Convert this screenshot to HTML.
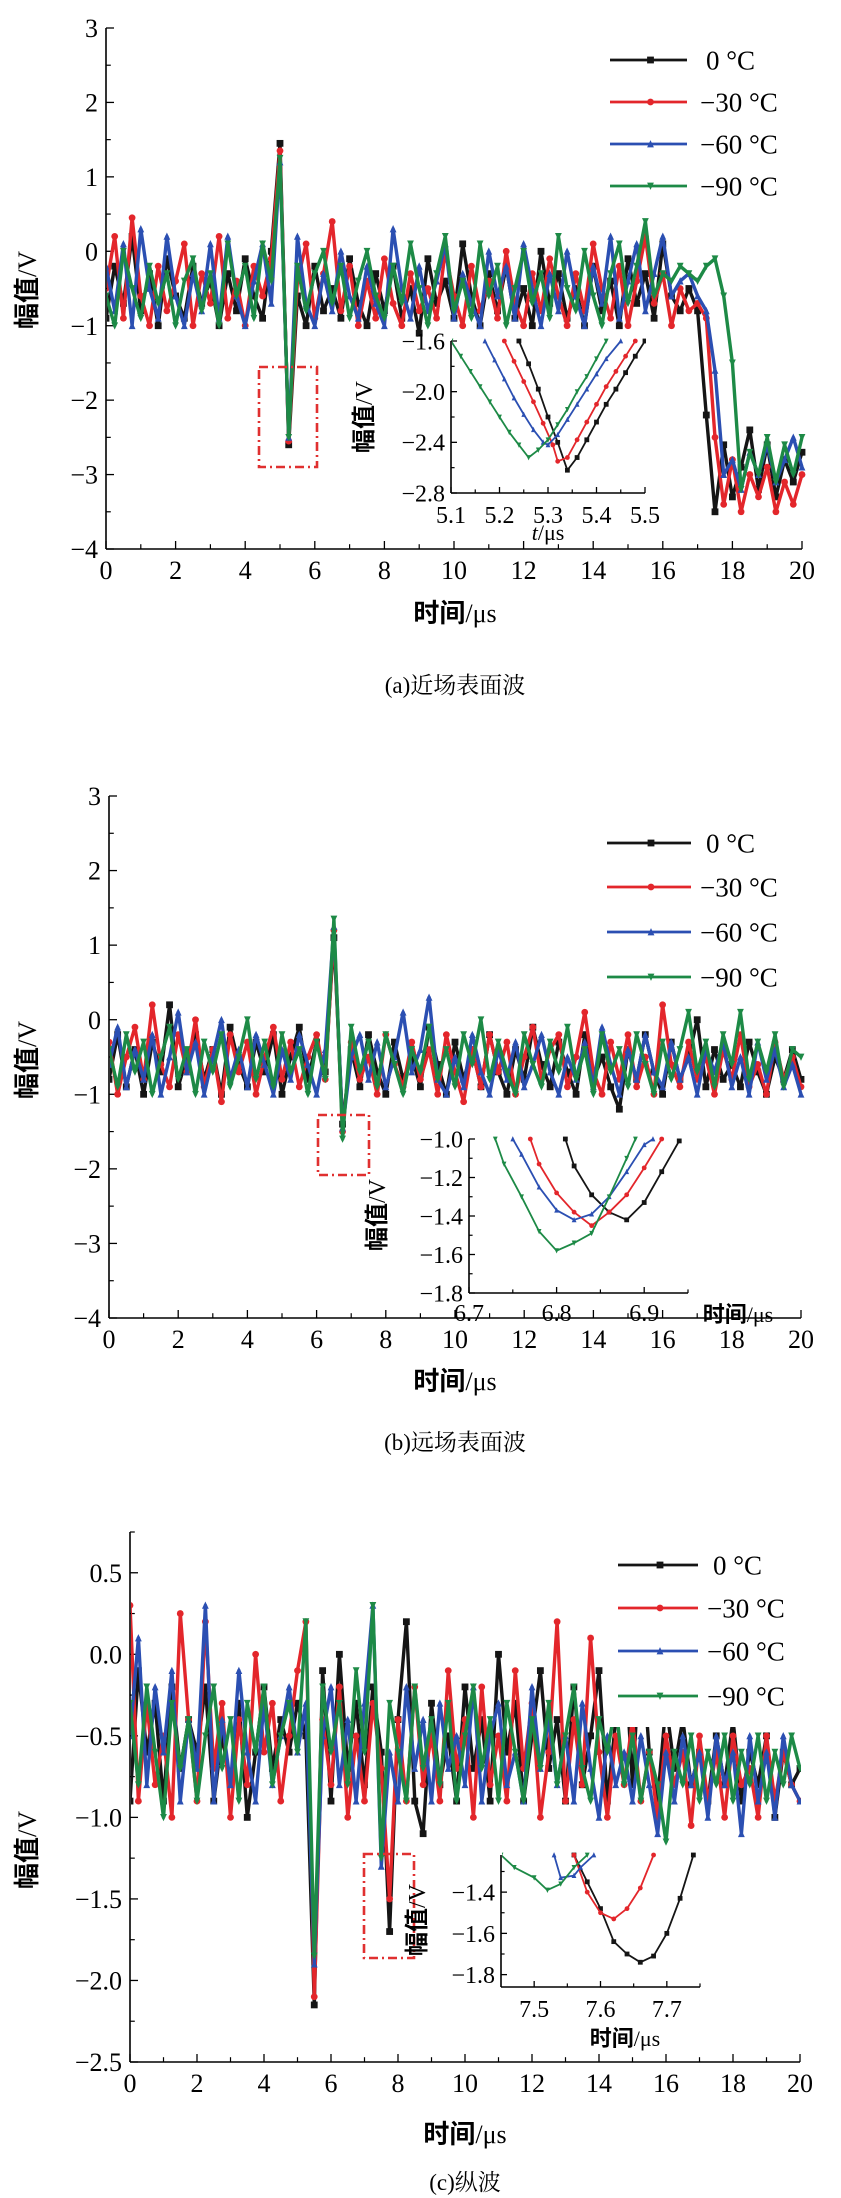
<!DOCTYPE html>
<html><head><meta charset="utf-8">
<style>
html,body{margin:0;padding:0;background:#fff;}
svg{display:block;}
text{font-family:"Liberation Serif","Noto Serif CJK SC",serif;fill:#000;}
.cjk{font-family:"Liberation Serif","Noto Sans CJK SC",sans-serif;font-weight:bold;}
</style></head>
<body>
<svg id="root" width="841" height="2198" viewBox="0 0 841 2198" xmlns="http://www.w3.org/2000/svg"></svg>
<script>
// ---------- data (t = 0..20 step 0.25) ----------
const legendLabels = ["0 °C","−30 °C","−60 °C","−90 °C"];
const aBlack=[-0.9,-0.2,-0.7,0.2,-0.8,-0.3,-1.0,-0.1,-0.6,-0.9,-0.2,-0.7,-0.4,-1.0,-0.3,-0.8,-0.1,-0.6,-0.9,0.0,1.45,-2.6,-0.6,-1.0,-0.2,-0.8,-0.5,-0.9,-0.1,-0.7,-1.0,-0.3,-0.8,-0.2,-0.9,-0.5,-1.1,-0.1,-0.7,-0.4,-0.9,0.1,-0.6,-1.0,-0.3,-0.8,-0.2,-0.9,-0.5,-1.0,0.0,-0.7,-0.3,-0.9,-0.5,-1.0,-0.2,-0.8,-0.4,-1.0,-0.1,-0.7,-0.3,-0.9,0.1,-0.6,-0.8,-0.5,-0.8,-2.2,-3.5,-2.6,-3.3,-2.9,-2.4,-3.2,-2.6,-3.3,-2.8,-3.1,-2.7];
const aRed=[-0.5,0.2,-0.9,0.45,-0.6,-1.0,-0.2,-0.8,-0.4,0.1,-1.0,-0.3,-0.7,0.2,-0.9,-0.4,-1.0,-0.2,-0.6,-0.1,1.35,-2.55,-0.4,0.1,-0.9,-0.3,0.4,-0.8,-0.2,-1.0,-0.4,-0.9,-0.1,-0.7,-1.0,-0.3,-0.8,-0.5,-0.9,0.0,-0.6,-1.0,-0.2,-0.8,-0.4,-0.9,0.0,-0.7,-1.0,-0.3,-0.8,-0.1,-0.6,-1.0,-0.3,-0.8,0.1,-0.5,-0.9,-0.2,-1.0,-0.4,0.2,-0.7,-0.3,-1.0,-0.5,-0.8,-0.7,-0.9,-2.5,-3.4,-2.8,-3.5,-3.0,-3.3,-2.9,-3.5,-3.1,-3.4,-3.0];
const aBlue=[-0.2,-0.8,0.1,-1.0,0.3,-0.5,-0.9,0.2,-0.6,-1.0,-0.3,-0.8,0.1,-0.9,0.2,-0.6,-1.0,-0.4,0.1,-0.7,1.2,-2.5,0.2,-0.7,-1.0,-0.3,-0.8,0.0,-0.6,-0.9,-0.2,-0.7,-1.0,0.3,-0.5,-0.9,-0.2,-0.8,-0.4,0.1,-0.9,-0.3,-0.7,-1.0,0.0,-0.6,-0.2,-0.9,0.1,-0.5,-1.0,-0.3,-0.8,0.0,-0.6,-1.0,-0.2,-0.7,0.2,-0.9,-0.4,0.1,-0.8,-0.3,0.2,-0.6,-0.4,-0.3,-0.6,-0.8,-1.6,-3.0,-2.8,-3.2,-2.7,-3.0,-2.6,-3.1,-2.8,-2.5,-2.9];
const aGreen=[-0.6,-1.0,0.0,-0.5,-0.9,-0.2,-0.7,-0.3,-1.0,-0.4,-0.1,-0.8,-0.3,-1.0,0.1,-0.6,-0.2,-0.9,0.1,-0.4,1.25,-2.5,-0.2,-0.8,-0.3,0.0,-0.7,-0.2,-0.9,-0.4,0.0,-0.6,-0.9,-0.2,-0.7,0.1,-0.5,-1.0,-0.3,0.2,-0.8,-0.4,-0.9,0.1,-0.6,-0.2,-1.0,-0.5,0.0,-0.7,-0.3,-0.9,0.2,-0.5,-0.8,0.0,-0.6,-1.0,-0.3,0.1,-0.7,-0.2,0.4,-0.6,-0.3,-0.4,-0.2,-0.3,-0.4,-0.2,-0.1,-0.6,-1.5,-3.2,-2.7,-3.0,-2.5,-3.1,-2.6,-3.0,-2.5];

const bBlack=[-0.8,-0.2,-0.9,-0.4,-1.0,-0.3,-0.7,0.2,-0.9,-0.5,-0.2,-0.8,-0.4,-1.0,-0.1,-0.6,-0.9,-0.3,-0.7,-0.2,-1.0,-0.5,-0.1,-0.8,-0.3,-0.7,1.1,-1.4,-0.4,-0.9,-0.2,-0.7,-1.0,-0.3,-0.8,-0.5,-0.9,-0.1,-0.6,-1.0,-0.3,-0.8,-0.4,-0.9,-0.2,-0.7,-1.0,-0.4,-0.8,-0.1,-0.6,-0.9,-0.3,-0.7,-1.0,-0.2,-0.8,-0.5,-0.9,-1.2,-0.4,-0.8,-0.2,-0.7,-1.0,-0.3,-0.8,-0.5,0.0,-0.9,-0.4,-0.8,-0.6,-0.9,-0.3,-0.7,-1.0,-0.5,-0.8,-0.4,-0.8];
const bRed=[-0.3,-1.0,-0.5,-0.1,-0.8,0.2,-0.6,-0.9,-0.2,-0.7,0.0,-0.9,-0.4,-1.1,-0.2,-0.7,-0.3,-1.0,-0.5,-0.1,-0.8,-0.3,-0.9,-0.5,-0.2,-0.8,1.2,-1.5,-0.3,-0.8,-0.5,-1.0,-0.2,-0.6,-0.9,-0.3,-0.8,-0.4,-1.0,-0.2,-0.7,-1.1,-0.4,-0.9,-0.2,-0.7,-0.3,-1.0,-0.5,-0.1,-0.8,-0.4,-0.2,-0.9,-0.5,0.1,-0.7,-1.0,-0.3,-0.8,-0.2,-0.9,-0.5,-1.0,0.2,-0.6,-0.9,-0.3,-0.8,-0.5,-1.0,-0.4,-0.8,-0.2,-0.9,-0.6,-1.0,-0.3,-0.8,-0.5,-0.9];
const bBlue=[-0.6,-0.1,-0.9,-0.4,-0.8,-0.2,-1.0,-0.5,0.1,-0.7,-0.3,-1.0,-0.5,0.0,-0.8,-0.4,-0.9,-0.2,-0.6,-1.0,-0.4,-0.8,-0.2,-0.6,-1.0,-0.4,1.25,-1.45,-0.5,-0.2,-0.8,-0.3,-0.9,-0.5,0.1,-0.7,-0.4,0.3,-0.8,-1.0,-0.5,-0.9,-0.2,-0.7,-1.0,-0.4,-0.8,-0.3,-0.9,-0.6,-0.2,-0.7,-1.0,-0.5,-0.8,-0.3,-0.9,-0.1,-0.6,-1.0,-0.4,-0.8,-0.2,-0.7,-0.9,-0.3,-0.8,-0.5,-1.0,-0.4,-0.7,-0.3,-0.9,-0.5,-1.0,-0.3,-0.8,-0.4,-0.9,-0.6,-1.0];
const bGreen=[-0.4,-0.9,-0.2,-0.7,-0.3,-1.0,-0.5,-0.1,-0.8,-0.4,-1.0,-0.3,-0.7,-0.2,-0.9,-0.5,0.0,-0.8,-0.3,-0.9,-0.2,-0.7,-0.4,-1.0,-0.3,-0.8,1.35,-1.6,-0.1,-0.7,-0.3,-0.9,-0.2,-0.6,-1.0,-0.4,-0.7,-0.1,-0.8,-0.4,-0.9,-0.2,-0.6,0.0,-0.8,-0.3,-0.7,-1.0,-0.2,-0.6,-0.9,-0.3,-0.7,-0.1,-0.8,-0.4,-1.0,-0.2,-0.7,-0.4,-0.9,-0.2,-0.6,-1.0,-0.3,-0.8,-0.4,0.1,-0.7,-0.3,-0.9,-0.2,-0.6,0.1,-0.8,-0.3,-0.7,-0.2,-0.9,-0.4,-0.5];

const cBlack=[-0.9,-0.1,-0.6,-0.3,-0.9,-0.2,-0.7,-0.4,-0.6,-0.2,-0.9,-0.5,-0.8,-0.3,-1.0,-0.6,-0.2,-0.7,-0.4,-0.6,-0.3,-0.5,-2.15,-0.1,-0.9,0.0,-0.7,-0.3,-0.8,-0.2,-0.6,-1.7,-0.4,0.2,-0.9,-1.1,-0.3,-0.8,-0.5,-0.9,-0.2,-0.7,-0.4,-0.9,0.0,-0.6,-0.3,-0.9,-0.5,-0.1,-0.7,-0.4,-0.9,-0.2,-0.8,-0.5,-0.1,-0.9,-0.4,0.1,-0.8,0.1,-0.6,-0.9,-0.3,-0.7,-0.4,-0.8,-0.6,-0.9,-0.5,-0.8,-0.4,-0.9,-0.6,-0.8,-0.5,-1.0,-0.6,-0.8,-0.7];
const cRed=[0.3,-0.9,-0.3,-0.8,-0.5,-1.0,0.25,-0.4,-0.9,0.2,-0.7,-0.3,-1.0,-0.4,-0.8,0.0,-0.6,-0.3,-0.9,-0.5,-0.1,0.2,-2.1,-0.4,-0.8,-0.2,-1.0,-0.5,-0.9,-0.3,-0.7,-1.5,-0.4,-0.9,-0.2,-0.8,-0.5,-0.9,-0.1,-0.7,-0.4,-1.0,-0.2,-0.8,-0.5,-0.9,-0.1,-0.7,-0.3,-1.0,-0.6,0.2,-0.9,-0.4,-0.8,0.1,-0.6,-1.0,-0.5,-0.8,-0.4,-0.9,-0.6,-1.0,-0.5,-0.8,-0.6,-1.05,-0.5,-0.9,-0.6,-1.0,-0.5,-0.8,-0.7,-1.0,-0.5,-0.9,-0.6,-0.8,-0.9];
const cBlue=[-0.5,0.1,-0.8,-0.2,-0.6,-0.1,-0.9,-0.4,-0.7,0.3,-0.9,-0.4,-0.8,-0.1,-0.6,-0.9,-0.3,-0.8,-0.5,-0.2,-0.6,-0.3,-1.9,-0.5,-0.2,-0.8,-0.4,-0.9,-0.3,0.3,-1.3,-0.6,-0.9,-0.2,-0.7,-0.4,-0.9,-0.3,-0.7,-0.5,-0.8,-0.2,-0.9,-0.5,-0.3,-0.8,-0.6,-0.9,-0.2,-0.7,-0.4,-0.8,-0.5,-0.9,-0.3,-0.7,-1.0,-0.5,-0.8,-0.6,-0.9,-0.5,-0.8,-1.1,-0.6,-0.9,-0.5,-0.8,-0.6,-1.0,-0.5,-0.8,-0.6,-1.1,-0.5,-0.9,-0.6,-1.0,-0.5,-0.8,-0.9];
const cGreen=[-0.3,-0.8,-0.2,-0.6,-1.0,-0.3,-0.7,-0.4,-0.9,-0.5,-0.2,-0.7,-0.4,-0.9,-0.3,-0.6,-0.2,-0.8,-0.5,-0.3,-0.6,0.2,-1.85,-0.2,-0.6,-0.3,-0.8,-0.1,-0.6,0.3,-1.25,-0.3,-0.6,-0.9,-0.2,-0.7,-0.4,-0.8,-0.3,-0.9,-0.5,-0.2,-0.7,-0.4,-0.9,-0.3,-0.6,-0.9,-0.4,-0.7,-0.3,-0.8,-0.5,-0.2,-0.7,-0.9,-0.4,-0.6,-0.3,-0.8,-0.5,-0.9,-0.6,-0.8,-1.15,-0.6,-0.8,-0.5,-0.9,-0.6,-0.8,-0.5,-0.9,-0.6,-0.8,-0.5,-0.9,-0.6,-0.8,-0.5,-0.7];

// insets
const iaX=[[5.24,5.26,5.28,5.30,5.32,5.34,5.36,5.38,5.40,5.42,5.44,5.46,5.48,5.50],[5.21,5.23,5.25,5.27,5.29,5.31,5.32,5.34,5.36,5.38,5.40,5.42,5.44,5.46,5.48],[5.17,5.19,5.21,5.23,5.25,5.27,5.29,5.30,5.32,5.34,5.36,5.38,5.40,5.42,5.45],[5.10,5.12,5.14,5.16,5.18,5.20,5.22,5.24,5.26,5.28,5.30,5.32,5.34,5.36,5.38,5.40,5.42]];
const iaY=[[-1.6,-1.78,-1.98,-2.2,-2.4,-2.62,-2.52,-2.38,-2.24,-2.1,-1.98,-1.85,-1.72,-1.6],[-1.6,-1.76,-1.92,-2.08,-2.25,-2.42,-2.55,-2.52,-2.38,-2.24,-2.1,-1.96,-1.84,-1.72,-1.6],[-1.6,-1.75,-1.9,-2.05,-2.18,-2.3,-2.4,-2.42,-2.34,-2.22,-2.1,-1.98,-1.86,-1.74,-1.6],[-1.6,-1.72,-1.84,-1.96,-2.08,-2.2,-2.32,-2.42,-2.52,-2.46,-2.38,-2.26,-2.14,-2.0,-1.88,-1.74,-1.6]];
const ibX=[[6.81,6.82,6.84,6.86,6.88,6.90,6.92,6.94],[6.77,6.78,6.80,6.82,6.84,6.86,6.88,6.90,6.92],[6.75,6.76,6.78,6.80,6.82,6.84,6.86,6.88,6.90,6.91],[6.73,6.74,6.76,6.78,6.80,6.82,6.84,6.86,6.88,6.89]];
const ibY=[[-1.0,-1.14,-1.29,-1.38,-1.42,-1.33,-1.17,-1.01],[-1.0,-1.13,-1.28,-1.38,-1.45,-1.38,-1.29,-1.15,-1.0],[-1.0,-1.08,-1.25,-1.37,-1.42,-1.39,-1.3,-1.17,-1.03,-1.0],[-1.0,-1.13,-1.3,-1.48,-1.58,-1.54,-1.49,-1.3,-1.1,-1.0]];
const icX=[[7.56,7.58,7.60,7.62,7.64,7.66,7.68,7.70,7.72,7.74],[7.56,7.58,7.60,7.62,7.64,7.66,7.68],[7.53,7.54,7.56,7.57,7.59],[7.45,7.47,7.50,7.52,7.54,7.56,7.58]];
const icY=[[-1.22,-1.35,-1.48,-1.64,-1.7,-1.74,-1.71,-1.6,-1.43,-1.22],[-1.22,-1.4,-1.5,-1.53,-1.48,-1.38,-1.22],[-1.22,-1.33,-1.32,-1.28,-1.22],[-1.22,-1.28,-1.33,-1.39,-1.36,-1.28,-1.22]];

const COLORS=["#151515","#e3262b","#2b4fb2","#1d8a46"];
const MARKS=["square","circle","tri","tridown"];
const NS="http://www.w3.org/2000/svg";
const root=document.getElementById('root');
function el(tag,attrs,parent){const e=document.createElementNS(NS,tag);for(const k in attrs)e.setAttribute(k,attrs[k]);(parent||root).appendChild(e);return e;}
function txt(s,x,y,size,anchor,parent,cls){const t=el('text',{x:x,y:y,'font-size':size,'text-anchor':anchor||'middle'},parent);if(cls)t.setAttribute('class',cls);t.textContent=s;return t;}
function marker(g,kind,x,y,r,c){
  let m;
  if(kind==="square")m=el('rect',{x:x-r,y:y-r,width:2*r,height:2*r,fill:c},g);
  else if(kind==="circle")m=el('circle',{cx:x,cy:y,r:r,fill:c},g);
  else if(kind==="tri")m=el('polygon',{points:`${x},${y-r-0.5} ${x-r},${y+r} ${x+r},${y+r}`,fill:c},g);
  else m=el('polygon',{points:`${x},${y+r+0.5} ${x-r},${y-r} ${x+r},${y-r}`,fill:c},g);
  
  
}
function axes(cfg,name){
  const g=el('g',{});
  
  
  const sx=v=>cfg.x0+(v-cfg.xmin)/(cfg.xmax-cfg.xmin)*(cfg.x1-cfg.x0);
  const sy=v=>cfg.yb+(v-cfg.ymin)/(cfg.ymax-cfg.ymin)*(cfg.yt-cfg.yb);
  el('line',{x1:cfg.x0,y1:cfg.yt,x2:cfg.x0,y2:cfg.yb,stroke:'#000','stroke-width':1.6},g);
  el('line',{x1:cfg.x0,y1:cfg.yb,x2:cfg.x1,y2:cfg.yb,stroke:'#000','stroke-width':1.6},g);
  cfg.xt.forEach(v=>{const x=sx(v);el('line',{x1:x,y1:cfg.yb,x2:x,y2:cfg.yb-cfg.tl,stroke:'#000','stroke-width':1.3},g);});
  (cfg.xm||[]).forEach(v=>{const x=sx(v);el('line',{x1:x,y1:cfg.yb,x2:x,y2:cfg.yb-cfg.tl*0.6,stroke:'#000','stroke-width':1.2},g);});
  cfg.yt_.forEach(v=>{const y=sy(v);el('line',{x1:cfg.x0,y1:y,x2:cfg.x0+cfg.tl,y2:y,stroke:'#000','stroke-width':1.3},g);});
  (cfg.ym||[]).forEach(v=>{const y=sy(v);el('line',{x1:cfg.x0,y1:y,x2:cfg.x0+cfg.tl*0.6,y2:y,stroke:'#000','stroke-width':1.2},g);});
  cfg.xl.forEach((s,i)=>{const t=txt(s,sx(cfg.xt[i]),cfg.yb+cfg.xlo,cfg.fs,'middle',g);});
  cfg.yl.forEach((s,i)=>{const t=txt(s,cfg.x0-cfg.ylo,sy(cfg.yt_[i])+cfg.fs*0.35,cfg.fs,'end',g);});
  return {sx,sy};
}
function series(sc,xs,ys,ci,name,clip,mr,sw){
  const g=el('g',clip?{'clip-path':`url(#${clip})`}:{});
  
  
  const pts=xs.map((x,i)=>sc.sx(x).toFixed(1)+','+sc.sy(ys[i]).toFixed(1)).join(' ');
  el('polyline',{points:pts,fill:'none',stroke:COLORS[ci],'stroke-width':sw,'stroke-linejoin':'round'},g);
  xs.forEach((x,i)=>marker(g,MARKS[ci],sc.sx(x),sc.sy(ys[i]),mr,COLORS[ci]));
}
function legend(x1,x2,tx,rows,fs){
  const g=el('g',{});
  
  
  rows.forEach((y,i)=>{
    const e=el('g',{},g);
    
    
    el('line',{x1:x1,y1:y,x2:x2,y2:y,stroke:COLORS[i],'stroke-width':2.8},e);
    marker(e,MARKS[i],(x1+x2)/2+2,y,3.4,COLORS[i]);
    txt(legendLabels[i],tx+(i?0:6),y+fs*0.36,fs,'start',e);
  });
}
function yTitle(x,y,size){
  const t=el('text',{x:0,y:0,'font-size':size,'text-anchor':'middle',transform:`translate(${x},${y}) rotate(-90)`});
  t.setAttribute('class','cjk');
  t.innerHTML='幅值<tspan font-weight="normal" font-family="Liberation Serif">/V</tspan>';
  
  
}
function xTitle(x,y,size,plain){
  const t=el('text',{x:x,y:y,'font-size':size,'text-anchor':'middle'});
  t.setAttribute('class','cjk');
  t.innerHTML=plain?'<tspan font-style="italic" font-weight="normal">t</tspan><tspan font-weight="normal">/μs</tspan>':'时间<tspan font-weight="normal" font-family="Liberation Serif">/μs</tspan>';
  
  
}
function caption(s,x,y){
  const t=txt(s,x,y,23,'middle',root,'');
  t.setAttribute('font-family','"Liberation Serif","Noto Serif CJK SC",serif');
  
  
}
function redBox(x,y,w,h){
  const r=el('rect',{x:x,y:y,width:w,height:h,fill:'none',stroke:'#e03030','stroke-width':2.6,'stroke-dasharray':'9,4,2,4'});
  
  
}
const defs=el('defs',{});
function clipRect(id,x,y,w,h){const c=el('clipPath',{id:id},defs);el('rect',{x:x,y:y,width:w,height:h},c);}
const DT=0.25;
function times(n){return Array.from({length:n},(_,i)=>i*DT);}
const SW=3.4, MR=3.4;

// ---------- chart A ----------
const xMain=[0,2,4,6,8,10,12,14,16,18,20];
const xMainLbl=xMain.map(String);
const xMinor=[1,3,5,7,9,11,13,15,17,19];
const yA=[3,2,1,0,-1,-2,-3,-4];
const yAminor=[2.5,1.5,0.5,-0.5,-1.5,-2.5,-3.5];
const A={x0:106,x1:802,yt:28,yb:549,xmin:0,xmax:20,ymin:-4,ymax:3,xt:xMain,xm:xMinor,yt_:yA,ym:yAminor,xl:xMainLbl,yl:yA.map(v=>v<0?'−'+(-v):String(v)),tl:8,fs:26,xlo:30,ylo:8};
const scA=axes(A,'chart-a');
clipRect('cA',107,20,700,528);
[aBlack,aRed,aBlue,aGreen].forEach((s,i)=>series(scA,times(s.length),s,i,'series-a-'+i,'cA',MR,SW));
redBox(259,367,58,100);
legend(610,687,700,[60,102,144,186],27);
// inset A
const IA={x0:451,x1:645,yt:341,yb:493,xmin:5.1,xmax:5.5,ymin:-2.8,ymax:-1.6,xt:[5.1,5.2,5.3,5.4,5.5],xm:[5.15,5.25,5.35,5.45],yt_:[-1.6,-2.0,-2.4,-2.8],ym:[-1.8,-2.2,-2.6],xl:['5.1','5.2','5.3','5.4','5.5'],yl:['−1.6','−2.0','−2.4','−2.8'],tl:6,fs:24,xlo:30,ylo:6};
const scIA=axes(IA,'inset-a');
clipRect('cIA',452,335,194,157);
iaX.forEach((xs,i)=>series(scIA,xs,iaY[i],i,'inset-a-series-'+i,'cIA',2.4,1.8));
yTitle(372,417,24);
xTitle(548,540,22,true);
yTitle(36,290,26);
xTitle(455,622,26);
caption('(a)近场表面波',455,693);

// ---------- chart B ----------
const B={x0:109,x1:801,yt:796,yb:1318,xmin:0,xmax:20,ymin:-4,ymax:3,xt:xMain,xm:xMinor,yt_:yA,ym:yAminor,xl:xMainLbl,yl:A.yl,tl:8,fs:26,xlo:30,ylo:8};
const scB=axes(B,'chart-b');
clipRect('cB',110,780,700,537);
[bBlack,bRed,bBlue,bGreen].forEach((s,i)=>series(scB,times(s.length),s,i,'series-b-'+i,'cB',MR,SW));
redBox(318,1115,51,60);
legend(607,691,700,[843,887,932,977],27);
const IB={x0:469,x1:688,yt:1139,yb:1293,xmin:6.7,xmax:6.95,ymin:-1.8,ymax:-1.0,xt:[6.7,6.8,6.9],xm:[6.75,6.85,6.95],yt_:[-1.0,-1.2,-1.4,-1.6,-1.8],ym:[-1.1,-1.3,-1.5,-1.7],xl:['6.7','6.8','6.9'],yl:['−1.0','−1.2','−1.4','−1.6','−1.8'],tl:6,fs:24,xlo:28,ylo:6};
const scIB=axes(IB,'inset-b');
clipRect('cIB',470,1134,220,158);
ibX.forEach((xs,i)=>series(scIB,xs,ibY[i],i,'inset-b-series-'+i,'cIB',2.4,1.8));
yTitle(385,1215,24);
xTitle(738,1322,22);
yTitle(36,1060,26);
xTitle(455,1390,26);
caption('(b)远场表面波',455,1450);

// ---------- chart C ----------
const yC=[0.5,0.0,-0.5,-1.0,-1.5,-2.0,-2.5];
const yCminor=[0.75,0.25,-0.25,-0.75,-1.25,-1.75,-2.25];
const C={x0:130,x1:800,yt:1532,yb:2062,xmin:0,xmax:20,ymin:-2.5,ymax:0.75,xt:xMain,xm:xMinor,yt_:yC,ym:yCminor,xl:xMainLbl,yl:yC.map(v=>(v<0?'−':'')+Math.abs(v).toFixed(1)),tl:8,fs:26,xlo:30,ylo:8};
const scC=axes(C,'chart-c');
clipRect('cC',131,1532,670,529);
[cBlack,cRed,cBlue,cGreen].forEach((s,i)=>series(scC,times(s.length),s,i,'series-c-'+i,'cC',MR,SW));
const wb=el('rect',{x:608,y:1530,width:200,height:197,fill:'#fff'});


redBox(364,1854,50,104);
legend(618,698,707,[1565,1608,1651,1696],27);
const IC={x0:501,x1:700,yt:1855,yb:1987,xmin:7.45,xmax:7.75,ymin:-1.86,ymax:-1.22,xt:[7.5,7.6,7.7],xm:[7.55,7.65,7.75],yt_:[-1.4,-1.6,-1.8],ym:[-1.3,-1.5,-1.7],xl:['7.5','7.6','7.7'],yl:['−1.4','−1.6','−1.8'],tl:6,fs:24,xlo:30,ylo:6};
const scIC=axes(IC,'inset-c');
clipRect('cIC',502,1850,200,136);
icX.forEach((xs,i)=>series(scIC,xs,icY[i],i,'inset-c-series-'+i,'cIC',2.4,1.8));
yTitle(425,1920,24);
xTitle(625,2046,22);
yTitle(36,1850,26);
xTitle(465,2143,26);
caption('(c)纵波',465,2190);
</script>
</body></html>
